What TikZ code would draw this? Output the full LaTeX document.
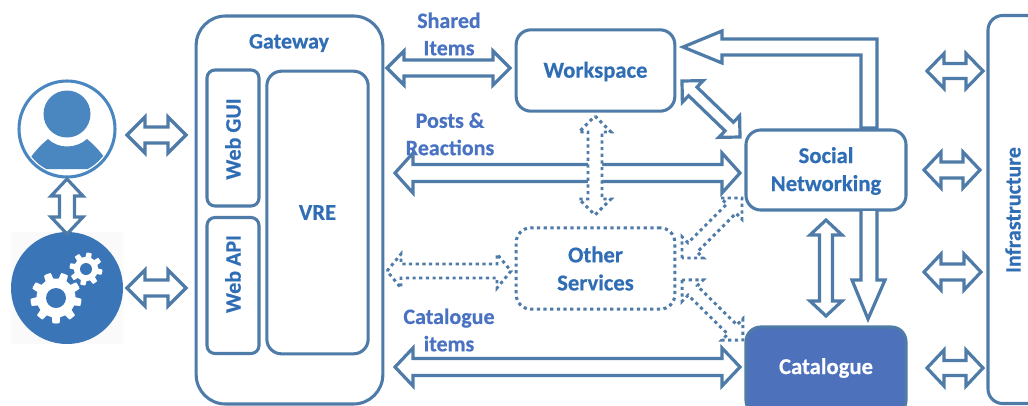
\documentclass[tikz,border=0pt]{standalone}
\usepackage{fontspec}
\setmainfont[BoldFeatures={FakeBold=0.5}]{Carlito}
\usetikzlibrary{calc}
\definecolor{lineblue}{HTML}{4F7BA8}
\definecolor{textblue}{HTML}{2F6DB5}
\definecolor{labelblue}{HTML}{4A72C2}
\definecolor{catfill}{HTML}{4E71BC}
\definecolor{userblue}{HTML}{4A86C0}
\definecolor{gearblue}{HTML}{3A75B8}
\tikzset{
  boxline/.style={draw=lineblue,line width=2.3pt,rounded corners=11pt,fill=white,align=center,
    font=\fontsize{17}{21}\selectfont\bfseries,text=textblue,inner sep=0pt},
  dottedbox/.style={boxline,dash pattern=on 2.4pt off 2.6pt},
  lbl/.style={font=\fontsize{16.5}{20.5}\selectfont\bfseries,text=labelblue,align=center,inner sep=0pt},
  blockline/.style={draw=lineblue,fill=white,line width=2.4pt,line join=miter,miter limit=8},
  dotline/.style={blockline,line width=2.2pt,dash pattern=on 2.4pt off 2.6pt}
}
\newcommand\blockarrow[6][blockline]{%
  \pgfmathsetlengthmacro\hwd{#4*0.75pt}%
  \pgfmathsetlengthmacro\hhd{#5*0.75pt}%
  \pgfmathsetlengthmacro\hld{#6*0.75pt}%
  \draw[#1] (#2)
    -- ($(#2)!\hld!(#3)!\hhd!90:(#3)$)
    -- ($(#2)!\hld!(#3)!\hwd!90:(#3)$)
    -- ($(#3)!\hld!(#2)!\hwd!-90:(#2)$)
    -- ($(#3)!\hld!(#2)!\hhd!-90:(#2)$)
    -- (#3)
    -- ($(#3)!\hld!(#2)!\hhd!90:(#2)$)
    -- ($(#3)!\hld!(#2)!\hwd!90:(#2)$)
    -- ($(#2)!\hld!(#3)!\hwd!-90:(#3)$)
    -- ($(#2)!\hld!(#3)!\hhd!-90:(#3)$)
    -- cycle;}
\newcommand\gearshape[6]{% cx cy inner outer teeth phase
  \fill[white] plot[domain=0:360,samples=241,variable=\t]
    ({#1+(#3+(#4-#3)*max(0,min(1,0.5+1.6*sin(#5*\t+#6))))*cos(\t)},
     {#2+(#3+(#4-#3)*max(0,min(1,0.5+1.6*sin(#5*\t+#6))))*sin(\t)}) -- cycle;}
\begin{document}
\begin{tikzpicture}[x=0.75pt,y=-0.75pt]
\useasboundingbox (0,0) rectangle (1028,405);
\clip (0,0) rectangle (1028,405);

% user icon
\node[circle,draw=userblue,line width=2.3pt,fill=white,minimum size=72pt,inner sep=0pt] (user) at (67,129) {};
\begin{scope}
  \clip (67,129) circle (45);
  \fill[userblue] (20,169) -- (20,157) -- (31,157) .. controls (36,150) and (42,144) .. (48,139)
    .. controls (58,149) and (76,149) .. (87,139) .. controls (93,144) and (99,150) .. (104,157)
    -- (114,157) -- (114,169) -- cycle;
\end{scope}
\fill[userblue] (67,114) circle (23.5);

% gears icon
\fill[gray!4] (11,232) rectangle (123,344);
\node[circle,fill=gearblue,minimum size=84pt,inner sep=0pt] (gears) at (67,288) {};
\gearshape{56}{298}{19.5}{25.5}{9}{0}
\fill[gearblue] (56,298) circle (10);
\gearshape{86}{269}{12}{16.5}{8}{0}
\fill[gearblue] (86,269) circle (6);

% main boxes
\node[boxline,rounded corners=22pt,minimum width=140pt,minimum height=291pt] (gateway) at (289.5,210) {};
\node[lbl,text=textblue] (gatewaylabel) at (289,43) {Gateway};
\node[boxline,rounded corners=6pt,minimum width=39pt,minimum height=102pt] (webgui) at (233,138) {};
\node[boxline,rounded corners=6pt,minimum width=39pt,minimum height=102pt] (webapi) at (233,285.5) {};
\node[lbl,text=textblue,rotate=90] (webguilabel) at (233,139) {Web GUI};
\node[lbl,text=textblue,rotate=90] (webapilabel) at (233,274) {Web API};
\node[boxline,minimum width=76pt,minimum height=212pt] (vre) at (317.5,212.5) {VRE};

\node[boxline,minimum width=119pt,minimum height=61pt] (workspace) at (595.5,70.5) {};
\node[lbl,text=textblue,font=\fontsize{17}{21}\selectfont\bfseries] (workspacelabel) at (595.5,71.5) {Workspace};
\node[boxline,minimum width=120pt,minimum height=60pt] (social) at (826,170) {};
\node[lbl,text=textblue,font=\fontsize{17}{21}\selectfont\bfseries] (sociallabel) at (826,171) {Social\\Networking};
\node[dottedbox,minimum width=119pt,minimum height=61pt] (other) at (595.5,268.5) {Other\\Services};
\node[boxline,fill=catfill,minimum width=120pt,minimum height=66pt] (catalogue) at (826,371) {};
\node[lbl,text=white,font=\fontsize{17}{21}\selectfont\bfseries] (cataloguelabel) at (826,368) {Catalogue};
\node[boxline,minimum width=60pt,minimum height=291pt] (infra) at (1028,209.5) {};
\node[lbl,text=textblue,rotate=90] (infralabel) at (1013,210) {Infrastructure};

% labels
\node[lbl] (sharedlabel) at (449,34) {Shared\\Items};
\node[lbl] (postslabel) at (450,134) {Posts \&\\Reactions};
\node[lbl] (catitems) at (449,330) {Catalogue\\items};

% anchor points of block arrows
\coordinate (ug1) at (127,135);   \coordinate (ug2) at (186,135);
\coordinate (gg1) at (127,288);   \coordinate (gg2) at (186,288);
\coordinate (uc1) at (67,179);    \coordinate (uc2) at (67,234);
\coordinate (sh1) at (387,68);    \coordinate (sh2) at (510,68);
\coordinate (po1) at (395,173);   \coordinate (po2) at (740,173);
\coordinate (ca1) at (395,367);   \coordinate (ca2) at (740,367);
\coordinate (wo1) at (595,116);   \coordinate (wo2) at (595,215);
\coordinate (ot1) at (387,271);   \coordinate (ot2) at (511,271);
\coordinate (ws1) at (682,81);    \coordinate (ws2) at (740,137);
\coordinate (os1) at (682,258);   \coordinate (os2) at (742,198);
\coordinate (oc1) at (682,280);   \coordinate (oc2) at (743,340);
\coordinate (sc1) at (826,220);   \coordinate (sc2) at (826,316);
\coordinate (r11) at (927,71);    \coordinate (r12) at (983,71);
\coordinate (r21) at (924,170);   \coordinate (r22) at (980,170);
\coordinate (r31) at (924,272);   \coordinate (r32) at (981,272);
\coordinate (r41) at (927,368);   \coordinate (r42) at (983,368);

\blockarrow{ug1}{ug2}{8}{18}{18}
\blockarrow{gg1}{gg2}{8}{18}{18}
\blockarrow{uc1}{uc2}{7.5}{16}{17}
\blockarrow{sh1}{sh2}{8}{17}{17}
\blockarrow{po1}{po2}{8.5}{20}{18}
\blockarrow{ca1}{ca2}{8.5}{19}{18}
\blockarrow{ws1}{ws2}{6}{15}{15}
\blockarrow{sc1}{sc2}{6.5}{16}{15}
\blockarrow{r11}{r12}{7.5}{17.5}{17}
\blockarrow{r21}{r22}{8}{18}{17}
\blockarrow{r31}{r32}{8}{18}{17}
\blockarrow{r41}{r42}{7.5}{18}{17}
\blockarrow[dotline]{wo1}{wo2}{7}{16}{16}
\blockarrow[dotline]{ot1}{ot2}{7}{17}{14}
\blockarrow[dotline]{os1}{os2}{6.5}{15}{15}
\blockarrow[dotline]{oc1}{oc2}{6.5}{15}{15}

% social -> workspace elbow arrow
\draw[blockline] (683,47) -- (722,31) -- (722,39) -- (877,39) -- (877,128) -- (861,128)
  -- (861,55) -- (722,55) -- (722,63) -- cycle;
% social -> catalogue arrow
\draw[blockline] (861,211) -- (861,280) -- (852,280) -- (868,319) -- (885,280) -- (877,280) -- (877,211);
\end{tikzpicture}
\end{document}
